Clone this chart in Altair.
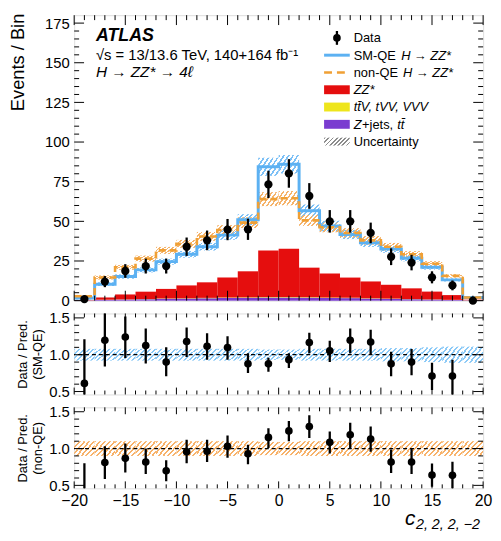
import math
import altair as alt
import pandas as pd

FONT = "Liberation Sans"
W = 414
HM = 289
HR = 82

# ---------------- data ----------------
bin_lo = [-20, -18, -16, -14, -12, -10, -8, -6, -4, -2, 0, 2, 4, 6, 8, 10, 12, 14, 16, 18]
bin_hi = [-18, -16, -14, -12, -10, -8, -6, -4, -2, 0, 2, 4, 6, 8, 10, 12, 14, 16, 18, 20]
bin_mid = [-19, -17, -15, -13, -11, -9, -7, -5, -3, -1, 1, 3, 5, 7, 9, 11, 13, 15, 17, 19]

data_y = [1, 12, 18.7, 21.8, 21.8, 34, 38, 44.8, 45, 73.3, 80.2, 66, 50, 50, 42.7, 27.7, 24, 14.7, 9.6, 0]
data_err_up = [1.4, 3.5, 4.3, 4.7, 4.7, 5.8, 6.2, 6.7, 6.7, 8.6, 9.0, 8.1, 7.1, 7.1, 6.5, 5.3, 4.9, 3.8, 3.1, 1.8]
data_err_dn = [0.8, 3.5, 4.3, 4.7, 4.7, 5.8, 6.2, 6.7, 6.7, 8.6, 9.0, 8.1, 7.1, 7.1, 6.5, 5.3, 4.9, 3.8, 3.1, 0.0]

sm_qe = [1.6, 10.4, 15.2, 19.4, 24.6, 29.2, 34, 41.3, 51, 84.4, 86, 56.7, 47, 41.7, 36.5, 32.5, 26.7, 21, 13.1, 2]
sm_unc = [0.8, 1.2, 1.4, 1.6, 1.9, 2.1, 2.4, 2.9, 3.5, 5.7, 5.8, 3.9, 3.3, 2.9, 2.6, 2.3, 1.9, 1.5, 1.0, 0.5]
non_qe = [2.8, 14.6, 21, 26.5, 31.7, 35.8, 40.5, 44.5, 49.2, 64, 64.6, 50.6, 46.3, 42.7, 38, 34, 29.2, 23.3, 15.6, 2]
nq_unc = [0.8, 1.3, 1.6, 1.9, 2.2, 2.5, 2.8, 3.1, 3.4, 4.4, 4.5, 3.5, 3.2, 3.0, 2.7, 2.4, 2.0, 1.6, 1.1, 0.5]

zz = [0.2, 1.4, 3.1, 4.6, 6.0, 8.1, 9.8, 12.6, 16.4, 29.3, 30.3, 18.6, 15.1, 12.7, 10.6, 8.7, 6.7, 4.9, 3.0, 0.35]
ttv = [0.05, 0.1, 0.1, 0.15, 0.2, 0.2, 0.25, 0.3, 0.3, 0.35, 0.35, 0.3, 0.3, 0.25, 0.2, 0.2, 0.15, 0.1, 0.1, 0.05]
zjets = [0.2, 0.5, 0.7, 0.9, 1.2, 1.3, 1.5, 1.7, 1.8, 2.0, 2.0, 1.9, 1.7, 1.6, 1.3, 1.1, 0.9, 0.7, 0.4, 0.2]

ratio_x = [-19, -17, -15, -13, -11, -9, -7, -5, -3, -1, 1, 3, 5, 7, 9, 11, 13, 15, 17]
ratio_sm = [0.61, 1.196, 1.24, 1.124, 0.90, 1.18, 1.115, 1.098, 0.876, 0.876, 0.933, 1.165, 1.053, 1.196, 1.173, 0.876, 0.90, 0.711, 0.71]
ratio_sm_lo = [0.2, 0.84, 0.955, 0.88, 0.707, 0.97, 0.93, 0.93, 0.75, 0.77, 0.82, 1.02, 0.90, 1.02, 1.0, 0.707, 0.72, 0.52, 0.45]
ratio_sm_hi = [1.21, 1.6, 1.52, 1.356, 1.10, 1.37, 1.29, 1.25, 1.02, 0.96, 1.02, 1.30, 1.19, 1.356, 1.34, 1.04, 1.076, 0.89, 0.93]
ratio_nq = [0.36, 0.81, 0.867, 0.818, 0.698, 0.955, 0.964, 1.03, 0.929, 1.151, 1.24, 1.298, 1.084, 1.187, 1.129, 0.818, 0.818, 0.64, 0.636]
ratio_nq_lo = [0.1, 0.587, 0.676, 0.653, 0.556, 0.8, 0.818, 0.875, 0.787, 1.009, 1.098, 1.142, 0.933, 1.0, 0.955, 0.667, 0.653, 0.48, 0.45]
ratio_nq_hi = [0.80, 1.03, 1.067, 1.0, 0.84, 1.12, 1.12, 1.178, 1.053, 1.276, 1.373, 1.453, 1.231, 1.351, 1.298, 0.987, 0.996, 0.796, 0.822]
band_sm = [0.08, 0.08, 0.08, 0.08, 0.08, 0.08, 0.08, 0.08, 0.08, 0.07, 0.07, 0.08, 0.08, 0.08, 0.08, 0.09, 0.09, 0.10, 0.11, 0.11]
band_nq = [0.10, 0.10, 0.10, 0.10, 0.10, 0.10, 0.10, 0.10, 0.10, 0.09, 0.09, 0.10, 0.10, 0.10, 0.10, 0.10, 0.10, 0.10, 0.10, 0.10]

y_major_main = [0, 25, 50, 75, 100, 125, 150, 175]
y_major_ratio = [0.5, 1.0, 1.5]
x_major = [-20, -15, -10, -5, 0, 5, 10, 15, 20]

# ---------------- styles ----------------
C_BLUE = "#5cb1f2"
C_ORANGE = "#f0a035"
C_RED = "#e50e0e"
C_YEL = "#eee51c"
C_PUR = "#7a3cd0"
LEG_FS = 13


def hatch_fill(color, wpx, hpx, period=3.3, duty=0.42):
    a = wpx * (wpx + hpx) / (wpx ** 2 + hpx ** 2)
    n = max(1, round((wpx + hpx) / (period * math.sqrt(2))))
    stops = []
    for k in range(n):
        o0, o1, o2 = k / n, (k + duty) / n, (k + 1) / n
        stops += [
            {"offset": o0, "color": color},
            {"offset": o1, "color": color},
            {"offset": o1, "color": "rgba(255,255,255,0)"},
            {"offset": o2, "color": "rgba(255,255,255,0)"},
        ]
    return {"gradient": "linear", "x1": 0, "y1": 0, "x2": a, "y2": a * hpx / wpx, "stops": stops}


xs = alt.Scale(domain=[-20, 20], nice=False, zero=False)
ys_main = alt.Scale(domain=[0, 180], nice=False, zero=False)
ys_ratio = alt.Scale(domain=[0.46, 1.56], nice=False, zero=False)

one = pd.DataFrame({"k": [0]})


def txt(s, x, y, size=LEG_FS, style="normal", weight="normal", align="left", font=FONT):
    return alt.Chart(one).mark_text(
        text=s, fontSize=size, fontStyle=style, fontWeight=weight, align=align,
        baseline="alphabetic", font=font, color="black"
    ).encode(x=alt.value(x), y=alt.value(y))


def tick_layers(h, yscale, ymaj, ymin, ly_maj, ly_min, lx_maj, lx_min, xax, yax):
    layers = []
    xmin_vals = [v for v in range(-19, 20) if v % 5 != 0]
    dxM = pd.DataFrame({"v": x_major})
    dxm = pd.DataFrame({"v": xmin_vals})
    dyM = pd.DataFrame({"v": ymaj})
    dym = pd.DataFrame({"v": ymin})
    for d, L in [(dxM, lx_maj), (dxm, lx_min)]:
        layers.append(alt.Chart(d).mark_rule(color="black", strokeWidth=1).encode(
            x=alt.X("v:Q", scale=xs, axis=xax), y=alt.value(h), y2=alt.value(h - L)))
        layers.append(alt.Chart(d).mark_rule(color="black", strokeWidth=1).encode(
            x=alt.X("v:Q", scale=xs, axis=xax), y=alt.value(0), y2=alt.value(L)))
    for d, L in [(dyM, ly_maj), (dym, ly_min)]:
        layers.append(alt.Chart(d).mark_rule(color="black", strokeWidth=1).encode(
            y=alt.Y("v:Q", scale=yscale, axis=yax), x=alt.value(0), x2=alt.value(L)))
        layers.append(alt.Chart(d).mark_rule(color="black", strokeWidth=1).encode(
            y=alt.Y("v:Q", scale=yscale, axis=yax), x=alt.value(W - L), x2=alt.value(W)))
    return layers


# ---------------- main panel ----------------
bins = pd.DataFrame({
    "lo": bin_lo, "hi": bin_hi, "mid": bin_mid,
    "sm_lo": [a - b for a, b in zip(sm_qe, sm_unc)], "sm_hi": [a + b for a, b in zip(sm_qe, sm_unc)],
    "nq_lo": [a - b for a, b in zip(non_qe, nq_unc)], "nq_hi": [a + b for a, b in zip(non_qe, nq_unc)],
    "d": data_y,
    "d_lo": [a - b for a, b in zip(data_y, data_err_dn)],
    "d_hi": [a + b for a, b in zip(data_y, data_err_up)],
})

stack_rows = []
for i in range(len(bin_lo)):
    base = 0.0
    for name, vals in [("Z+jets", zjets), ("ttV", ttv), ("ZZ", zz)]:
        stack_rows.append({"lo": bin_lo[i], "hi": bin_hi[i], "comp": name, "y0": base, "y1": base + vals[i]})
        base += vals[i]
stack = pd.DataFrame(stack_rows)

step_sm = pd.DataFrame({"x": bin_lo + [20], "y": sm_qe + [sm_qe[-1]]})
step_nq = pd.DataFrame({"x": bin_lo + [20], "y": non_qe + [non_qe[-1]]})

YM = alt.Axis(
    values=y_major_main, title="Events / Bin", titleFontSize=18.5, titleFont=FONT, titleFontWeight="normal",
    titleAngle=270, titleAlign="right", titleBaseline="alphabetic", titleX=-51, titleY=-2,
    labelFontSize=15, labelPadding=5, ticks=False, domain=False, grid=False, labelColor="black",
    titleColor="black", labelFont=FONT)
XN = None

bars = alt.Chart(stack).mark_rect().encode(
    x=alt.X("lo:Q", scale=xs, axis=XN), x2="hi:Q",
    y=alt.Y("y0:Q", scale=ys_main, axis=YM), y2="y1:Q",
    color=alt.Color("comp:N", scale=alt.Scale(domain=["Z+jets", "ttV", "ZZ"], range=[C_PUR, C_YEL, C_RED]), legend=None),
)

band_sm_main = alt.Chart(bins).mark_rect(fill=hatch_fill("#7cc0f6", 20.7, 12)).encode(
    x=alt.X("lo:Q", scale=xs, axis=XN), x2="hi:Q",
    y=alt.Y("sm_lo:Q", scale=ys_main, axis=YM), y2="sm_hi:Q")
band_nq_main = alt.Chart(bins).mark_rect(fill=hatch_fill("#f5b36a", 20.7, 10)).encode(
    x=alt.X("lo:Q", scale=xs, axis=XN), x2="hi:Q",
    y=alt.Y("nq_lo:Q", scale=ys_main, axis=YM), y2="nq_hi:Q")

line_sm = alt.Chart(step_sm).mark_line(interpolate="step-after", color=C_BLUE, strokeWidth=3).encode(
    x=alt.X("x:Q", scale=xs, axis=XN), y=alt.Y("y:Q", scale=ys_main, axis=YM))
line_nq = alt.Chart(step_nq).mark_line(interpolate="step-after", color=C_ORANGE, strokeWidth=2.6,
                                       strokeDash=[7, 4]).encode(
    x=alt.X("x:Q", scale=xs, axis=XN), y=alt.Y("y:Q", scale=ys_main, axis=YM))

err_main = alt.Chart(bins).mark_rule(color="black", strokeWidth=2.3).encode(
    x=alt.X("mid:Q", scale=xs, axis=XN),
    y=alt.Y("d_lo:Q", scale=ys_main, axis=YM), y2="d_hi:Q")
pts_main = alt.Chart(bins).mark_point(filled=True, color="black", opacity=1, size=70, shape="circle").encode(
    x=alt.X("mid:Q", scale=xs, axis=XN), y=alt.Y("d:Q", scale=ys_main, axis=YM))

ymin_main = [v for v in range(5, 180, 5) if v % 25 != 0]

# header texts
hdr = [
    txt("ATLAS", 22, 26, size=18, style="italic", weight="bold"),
    txt("√s = 13/13.6 TeV, 140+164 fb⁻¹", 22, 45, size=15),
    txt("H  →  ZZ*  →  4ℓ", 22, 63, size=15.5, style="italic"),
]

# legend
LX0, LX1, TX = 253, 279, 283
rows = [23, 40.5, 58, 75.5, 93, 110.5, 128]
leg = []
leg.append(alt.Chart(one).mark_rule(color="black", strokeWidth=2.3).encode(
    x=alt.value(266), y=alt.value(rows[0] - 7), y2=alt.value(rows[0] + 7)))
leg.append(alt.Chart(one).mark_point(filled=True, color="black", opacity=1, size=60).encode(
    x=alt.value(266), y=alt.value(rows[0])))
leg.append(txt("Data", TX, rows[0] + 4.5))
leg.append(alt.Chart(one).mark_rule(color=C_BLUE, strokeWidth=3).encode(
    x=alt.value(LX0), x2=alt.value(LX1), y=alt.value(rows[1])))
leg.append(txt("SM-QE", TX, rows[1] + 4.5))
leg.append(txt("H → ZZ*", TX + 48, rows[1] + 4.5, style="italic"))
leg.append(alt.Chart(one).mark_rule(color=C_ORANGE, strokeWidth=2.6, strokeDash=[8, 5]).encode(
    x=alt.value(LX0), x2=alt.value(LX1), y=alt.value(rows[2])))
leg.append(txt("non-QE", TX, rows[2] + 4.5))
leg.append(txt("H → ZZ*", TX + 50, rows[2] + 4.5, style="italic"))
for r, c in [(rows[3], C_RED), (rows[4], C_YEL), (rows[5], C_PUR)]:
    leg.append(alt.Chart(one).mark_rect(color=c).encode(
        x=alt.value(LX0), x2=alt.value(LX1), y=alt.value(r - 4.5), y2=alt.value(r + 4.5)))
leg.append(txt("ZZ*", TX, rows[3] + 4.5, style="italic"))
leg.append(txt("tt̄V, tVV, VVV", TX, rows[4] + 4.5, style="italic"))
leg.append(txt("Z", TX, rows[5] + 4.5, style="italic"))
leg.append(txt("+jets,", TX + 8.5, rows[5] + 4.5))
leg.append(txt("tt̄", TX + 44, rows[5] + 4.5, style="italic"))
leg.append(alt.Chart(one).mark_rect(fill=hatch_fill("#8c8c8c", 26, 8, period=3.0)).encode(
    x=alt.value(LX0), x2=alt.value(LX1), y=alt.value(rows[6] - 4), y2=alt.value(rows[6] + 4)))
leg.append(txt("Uncertainty", TX, rows[6] + 4.5))

main = alt.layer(
    bars, band_sm_main, band_nq_main, line_sm, line_nq, err_main, pts_main,
    *tick_layers(HM, ys_main, y_major_main, ymin_main, 10, 5, 10, 5, XN, YM),
    *hdr, *leg,
).properties(width=W, height=HM)


# ---------------- ratio panels ----------------
def ratio_panel(vals, lo, hi, band, band_color, title, show_x):
    pdf = pd.DataFrame({"x": ratio_x, "r": vals, "lo": lo, "hi": hi})
    bdf = pd.DataFrame({"lo": bin_lo, "hi": bin_hi,
                        "b0": [1 - b for b in band], "b1": [1 + b for b in band]})
    if show_x:
        xax = alt.Axis(values=x_major, labelFontSize=16, labelPadding=4, ticks=False, domain=False,
                       grid=False, title=None, labelColor="black", labelFont=FONT, labelFlush=False,
                       labelOverlap=False)
    else:
        xax = None
    yax = alt.Axis(values=y_major_ratio, format=".1f", labelFontSize=15, labelPadding=5, ticks=False,
                   domain=False, grid=False, title=title, titleFontSize=13, titleFont=FONT,
                   titleFontWeight="normal", titleAngle=270, titleAlign="center",
                   titleBaseline="alphabetic", titleX=-48, titleY=HR / 2, titleLineHeight=15,
                   labelColor="black", titleColor="black", labelFont=FONT)
    band_l = alt.Chart(bdf).mark_rect(fill=hatch_fill(band_color, 20.7, 13)).encode(
        x=alt.X("lo:Q", scale=xs, axis=xax), x2="hi:Q",
        y=alt.Y("b0:Q", scale=ys_ratio, axis=yax), y2="b1:Q")
    unity = alt.Chart(pd.DataFrame({"one": [1.0]})).mark_rule(
        color="black", strokeWidth=1.2, strokeDash=[4, 3]).encode(
        y=alt.Y("one:Q", scale=ys_ratio, axis=yax))
    err = alt.Chart(pdf).mark_rule(color="black", strokeWidth=2.3, clip=True).encode(
        x=alt.X("x:Q", scale=xs, axis=xax),
        y=alt.Y("lo:Q", scale=ys_ratio, axis=yax), y2="hi:Q")
    pts = alt.Chart(pdf).mark_point(filled=True, color="black", opacity=1, size=60, clip=True).encode(
        x=alt.X("x:Q", scale=xs, axis=xax), y=alt.Y("r:Q", scale=ys_ratio, axis=yax))
    ymin_r = [0.6, 0.7, 0.8, 0.9, 1.1, 1.2, 1.3, 1.4]
    layers = [band_l, unity, err, pts,
              *tick_layers(HR, ys_ratio, y_major_ratio, ymin_r, 10, 5, 7, 4, xax, yax)]
    if show_x:
        layers.append(txt("c", 335, 119, size=21, style="italic"))
        layers.append(txt("2, 2, 2, −2", 346, 123, size=14.5, style="italic"))
    return alt.layer(*layers).properties(width=W, height=HR)


r1 = ratio_panel(ratio_sm, ratio_sm_lo, ratio_sm_hi, band_sm, "#8ccaf7", ["Data / Pred.", "(SM-QE)"], False)
r2 = ratio_panel(ratio_nq, ratio_nq_lo, ratio_nq_hi, band_nq, "#f7b26a", ["Data / Pred.", "(non-QE)"], True)

chart = alt.vconcat(main, r1, r2, spacing=13, bounds="flush").properties(
    padding={"left": 0, "top": 1, "right": 0, "bottom": 0}
).configure_view(stroke="black", strokeWidth=1).configure(font=FONT)

chart.save("out.html", embed_options={"renderer": "svg", "actions": False})
